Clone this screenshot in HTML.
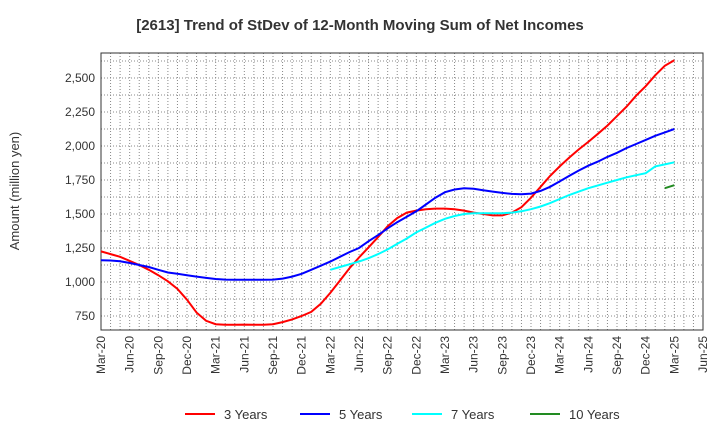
<!DOCTYPE html>
<html><head><meta charset="utf-8"><style>
body{margin:0;background:#fff;font-family:"Liberation Sans",sans-serif}
</style></head><body>
<svg id="c" width="720" height="440" xmlns="http://www.w3.org/2000/svg" font-family="Liberation Sans, sans-serif"></svg>
<script>
const xLabels=["Mar-20","Jun-20","Sep-20","Dec-20","Mar-21","Jun-21","Sep-21","Dec-21","Mar-22","Jun-22","Sep-22","Dec-22","Mar-23","Jun-23","Sep-23","Dec-23","Mar-24","Jun-24","Sep-24","Dec-24","Mar-25","Jun-25"];
const yTicks=[750,1000,1250,1500,1750,2000,2250,2500];
const yTickLabels=["750","1,000","1,250","1,500","1,750","2,000","2,250","2,500"];
const s3=[1225,1205,1185,1155,1125,1090,1050,1005,950,870,775,715,690,685,685,687,686,686,690,705,725,750,780,840,920,1010,1100,1180,1255,1330,1410,1470,1510,1525,1535,1540,1540,1535,1525,1510,1500,1490,1490,1510,1550,1620,1700,1780,1850,1915,1975,2030,2090,2150,2220,2290,2370,2440,2520,2590,2630];
const s5=[1160,1158,1152,1140,1125,1110,1090,1070,1060,1050,1040,1030,1022,1018,1017,1017,1017,1017,1018,1025,1040,1060,1090,1120,1150,1185,1220,1250,1300,1345,1395,1440,1480,1520,1570,1620,1660,1680,1690,1685,1675,1665,1655,1648,1645,1650,1670,1700,1740,1780,1820,1855,1885,1920,1950,1985,2015,2045,2075,2100,2125];
const s7start=24;
const s7=[1090,1110,1130,1150,1175,1205,1240,1280,1320,1365,1400,1435,1465,1485,1500,1505,1505,1505,1505,1510,1520,1535,1555,1580,1610,1640,1665,1690,1710,1730,1750,1770,1785,1800,1815,1835,1850,1865,1880].slice(0,37);
s7[34]=1850;s7[35]=1865;s7[36]=1880;
const s10start=59;
const s10=[1690,1712];
const seriesNames=["3 Years","5 Years","7 Years","10 Years"];
const colors=["#ff0000","#0000ff","#00ffff","#228b22"];

const svg=document.getElementById('c');const NS="http://www.w3.org/2000/svg";
const L=101,R=703,T=53,B=330;
const xm=i=>L+i*(R-L)/63;
const ys=v=>316-(v-750)*34/250;
function el(t,a,p){const e=document.createElementNS(NS,t);for(const k in a)e.setAttribute(k,a[k]);(p||svg).appendChild(e);return e;}
const title=el('text',{x:360,y:30,'text-anchor':'middle','font-size':15,'font-weight':'bold',fill:'#333'});


title.textContent="[2613]  Trend of StDev of 12-Month Moving Sum of Net Incomes";
for(let i=0;i<=63;i++){const g=el('line',{x1:xm(i),x2:xm(i),y1:T,y2:B,stroke:'#888','stroke-dasharray':'1,2','stroke-width':1});

}
for(let v=750;v<=2750;v+=125){const y=ys(v);if(y<T||y>B)continue;const g=el('line',{x1:L,x2:R,y1:y,y2:y,stroke:'#888','stroke-dasharray':'1,2','stroke-width':1});

}
const fr=el('rect',{x:L,y:T,width:R-L,height:B-T,fill:'none',stroke:'#333','stroke-width':1});


yTicks.forEach((v,i)=>{const t=el('text',{x:L-6,y:ys(v)+4,'text-anchor':'end','font-size':12,fill:'#333'});


t.textContent=yTickLabels[i];});
xLabels.forEach((s,i)=>{const x=xm(i*3);const t=el('text',{transform:`translate(${x+4},${B+6}) rotate(-90)`,'text-anchor':'end','font-size':12,fill:'#333'});


t.textContent=s;});
const yt=el('text',{transform:'translate(19,191) rotate(-90)','text-anchor':'middle','font-size':13,fill:'#333'});


yt.textContent="Amount (million yen)";
function line(arr,start,c,name){const d=arr.map((v,i)=>(i?'L':'M')+xm(start+i).toFixed(1)+','+ys(v).toFixed(1)).join('');
const p=el('path',{d,fill:'none',stroke:c,'stroke-width':2});

}
line(s3,0,colors[0],'line-3-years');line(s5,0,colors[1],'line-5-years');line(s7,s7start,colors[2],'line-7-years');line(s10,s10start,colors[3],'line-10-years');
const lx=[185,300,412,530];
seriesNames.forEach((n,i)=>{const g=el('g',{});


el('line',{x1:lx[i],x2:lx[i]+30,y1:414,y2:414,stroke:colors[i],'stroke-width':2},g);
const t=el('text',{x:lx[i]+39,y:419,'font-size':13,fill:'#333'},g);t.textContent=n;});
</script>
</body></html>
